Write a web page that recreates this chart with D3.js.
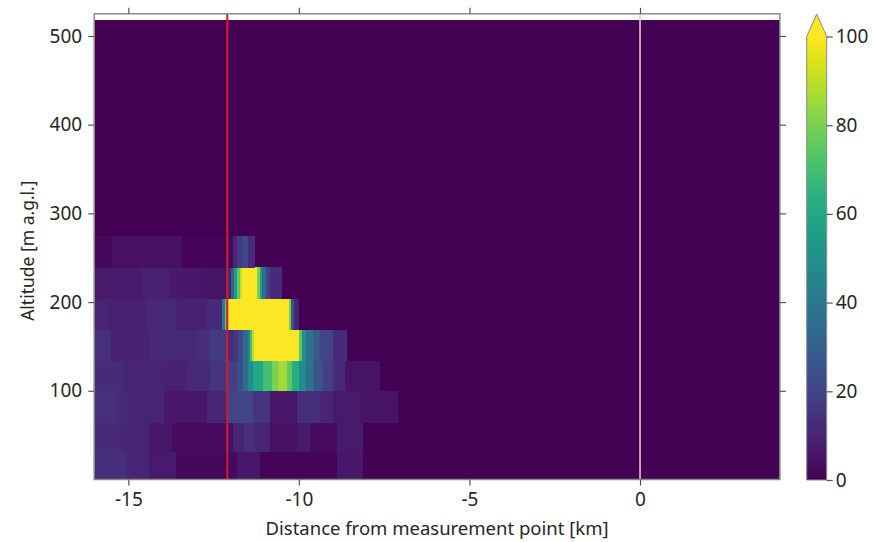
<!DOCTYPE html>
<html><head><meta charset="utf-8">
<script src="https://cdn.jsdelivr.net/npm/d3@7"></script>
<style>
body{margin:0;background:#fff}
svg{display:block}
text{font-family:"Noto Sans",sans-serif;fill:#262626}
</style>
</head><body><svg id="c" width="873" height="542"></svg>
<script>
// ---- data ----
// altitude bin edges [m a.g.l.]; bins above 274 m are all zero
const altEdges = [0, 31, 64, 100, 134, 169, 204, 239, 274];
const dataTop = 518;
// each row: [distance km where segment starts, value]; value holds until next start
const row0 = [[-16.0,13],[-15.04,10],[-14.39,7],[-13.6,2],[-12.08,3],[-11.81,6],[-11.14,1],[-8.88,6],[-8.12,0]];
const row1 = [[-16.0,12],[-15.22,10],[-14.39,6],[-13.72,3],[-12.08,4],[-11.93,10],[-11.6,14],[-11.3,10],[-10.85,4],[-10.06,7],[-9.67,3],[-8.88,7],[-8.12,0]];
const row2 = [[-16.0,14],[-15.36,12],[-15.04,10],[-13.95,6],[-12.69,10],[-12.08,20],[-11.35,15],[-10.85,6],[-10.06,13],[-9.38,10],[-9.0,7],[-8.21,5],[-7.12,0]];
const row3 = [[-16.0,12],[-15.13,10],[-13.9,9],[-13.28,11],[-12.61,15],[-12.08,18],[-11.8,24],[-11.64,35],[-11.5,48],[-11.35,60],[-11.05,70],[-10.8,80],[-10.6,86],[-10.35,75],[-10.2,62],[-10.0,48],[-9.8,36],[-9.55,26],[-9.3,18],[-9.0,11],[-8.65,5],[-7.62,0]];
const row4 = [[-16.0,14],[-15.51,9],[-14.39,11],[-12.99,13],[-12.63,17],[-12.11,12],[-11.93,16],[-11.79,22],[-11.64,35],[-11.5,45],[-11.42,70],[-11.36,90],[-11.32,100],[-10.0,75],[-9.92,50],[-9.8,38],[-9.6,28],[-9.38,20],[-9.0,12],[-8.6,0]];
const row5 = [[-16.0,10],[-15.63,9],[-14.48,11],[-13.6,9],[-12.69,12],[-12.25,40],[-12.17,75],[-12.11,100],[-10.3,80],[-10.22,25],[-10.14,10],[-10.02,0]];
const row6 = [[-16.0,7],[-14.6,9],[-13.81,7],[-13.43,6],[-12.69,5],[-12.08,10],[-12.0,30],[-11.9,55],[-11.8,75],[-11.72,92],[-11.67,100],[-11.24,80],[-11.15,55],[-11.08,35],[-10.97,20],[-10.85,12],[-10.5,0]];
const row7 = [[-16.0,2],[-15.48,4],[-13.43,1],[-12.08,2],[-11.93,10],[-11.8,16],[-11.67,22],[-11.49,12],[-11.29,0]];
const rows = [row0,row1,row2,row3,row4,row5,row6,row7];

const xTicks = [-15,-10,-5,0];
const yTicks = [100,200,300,400,500];
const cTicks = [0,20,40,60,80,100];
const refLines = [{x:-12.1,color:"#d31c26",w:2},{x:0,color:"#efc3d3",w:1.6}];
const xLabel = "Distance from measurement point [km]";
const yLabel = "Altitude [m a.g.l.]";

// ---- drawing ----
const svg = d3.select("#c");
const L=94.2, R=779.9, T=13.8, B=479.5;
const x = d3.scaleLinear().domain([-16.0,4.1]).range([L,R]);
const y = d3.scaleLinear().domain([0,525]).range([B,T]);
const col = v => d3.interpolateViridis(Math.max(0,Math.min(1,v/100)));

const g = svg.append("g");
// base (zero) field
g.append("rect").attr("x",x(-16)).attr("y",y(dataTop)).attr("width",x(4.1)-x(-16)).attr("height",y(0)-y(dataTop)).attr("fill",col(0));
rows.forEach((row,i)=>{
  const y0=altEdges[i], y1=altEdges[i+1];
  row.forEach((s,j)=>{
    const xe = j<row.length-1 ? row[j+1][0] : 4.1;
    if(s[1]<=0) return;
    g.append("rect").attr("x",x(s[0])).attr("y",y(y1)).attr("width",Math.max(0,x(xe)-x(s[0]))+0.4)
      .attr("height",y(y0)-y(y1)+0.3).attr("fill",col(s[1])).attr("shape-rendering","crispEdges");
  });
});
refLines.forEach(l=>{
  svg.append("line").attr("x1",x(l.x)).attr("x2",x(l.x)).attr("y1",T).attr("y2",B).attr("stroke",l.color).attr("stroke-width",l.w);
});
// frame
svg.append("rect").attr("x",L).attr("y",T).attr("width",R-L).attr("height",B-T).attr("fill","none").attr("stroke","#8a8a8a").attr("stroke-width",1.5);

const tickCol="#555";
const ax = svg.append("g").attr("transform",`translate(0,${B})`).call(d3.axisBottom(x).tickValues(xTicks).tickSize(6).tickPadding(7).tickFormat(d3.format("d")));
const axT = svg.append("g").attr("transform",`translate(0,${T})`).call(d3.axisTop(x).tickValues(xTicks).tickSize(6).tickFormat(""));
const ay = svg.append("g").attr("transform",`translate(${L},0)`).call(d3.axisLeft(y).tickValues(yTicks).tickSize(6).tickPadding(6));
const ayR = svg.append("g").attr("transform",`translate(${R},0)`).call(d3.axisRight(y).tickValues(yTicks).tickSize(6).tickFormat(""));
[ax,axT,ay,ayR].forEach(a=>{a.select(".domain").remove();a.selectAll("line").attr("stroke",tickCol).attr("stroke-width",1.2);
  a.selectAll("text").attr("font-size",19).attr("font-family","Noto Sans").attr("fill","#262626");});
ax.selectAll("text").text(d=>d<0?"-"+Math.abs(d):d);

svg.append("text").attr("x",(L+R)/2).attr("y",535).attr("text-anchor","middle").attr("font-size",18.5).text(xLabel);
svg.append("text").attr("transform",`translate(34,${(T+B)/2+4}) rotate(-90)`).attr("text-anchor","middle").attr("font-size",17.5).text(yLabel);

// colorbar
const cx0=806.7, cw=20, cB=480, cT=36.5, apex=14;
const cy = d3.scaleLinear().domain([0,100]).range([cB,cT]);
const defs=svg.append("defs");
const grad=defs.append("linearGradient").attr("id","vg").attr("x1",0).attr("y1",1).attr("x2",0).attr("y2",0);
d3.range(0,1.0001,0.02).forEach(t=>grad.append("stop").attr("offset",t).attr("stop-color",d3.interpolateViridis(t)));
svg.append("rect").attr("x",cx0).attr("y",cT).attr("width",cw).attr("height",cB-cT).attr("fill","url(#vg)");
svg.append("path").attr("d",`M${cx0},${cT+0.5}L${cx0+cw/2},${apex}L${cx0+cw},${cT+0.5}Z`).attr("fill",col(100));
svg.append("path").attr("d",`M${cx0},${cB}L${cx0},${cT}L${cx0+cw/2},${apex}L${cx0+cw},${cT}L${cx0+cw},${cB}Z`).attr("fill","none").attr("stroke","#8a8a8a").attr("stroke-width",1);
const ac = svg.append("g").attr("transform",`translate(${cx0+cw},0)`).call(d3.axisRight(cy).tickValues(cTicks).tickSize(6).tickPadding(3));
ac.select(".domain").remove();
ac.selectAll("line").attr("stroke",tickCol).attr("stroke-width",1.2);
ac.selectAll("text").attr("font-size",19).attr("font-family","Noto Sans").attr("fill","#262626");
</script>
</body></html>
